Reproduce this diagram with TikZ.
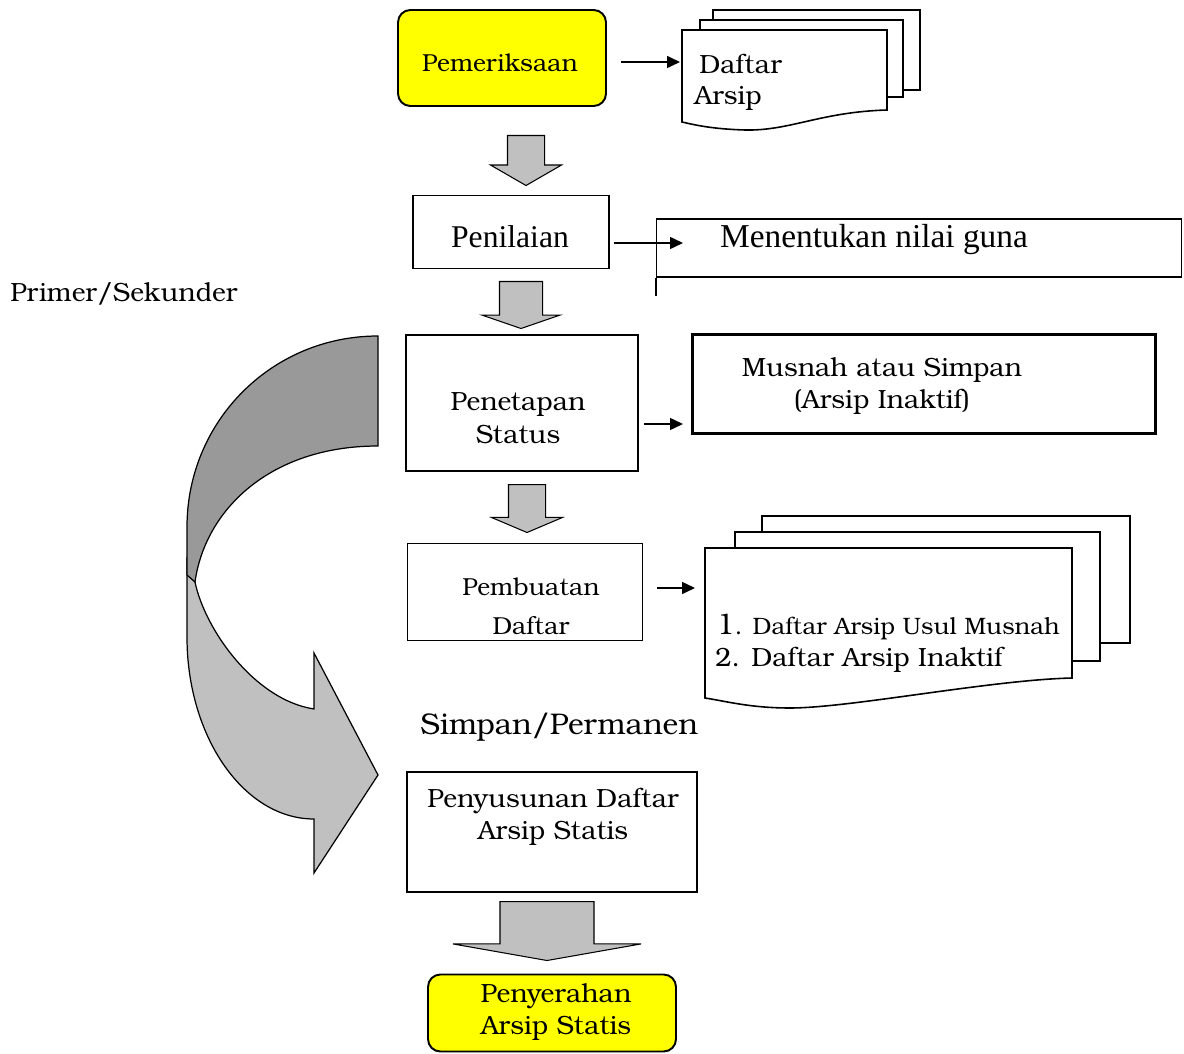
\documentclass[tikz,border=0pt]{standalone}
\usepackage{fontspec}
\usepackage{tikz}
\usetikzlibrary{positioning, calc, shapes.arrows, arrows.meta}
\newfontfamily\bk{TeX Gyre Bonum}
\newfontfamily\tms{Liberation Serif}
\definecolor{arrowgray}{HTML}{C0C0C0}
\definecolor{bandgray}{HTML}{999999}
\definecolor{startyellow}{HTML}{FFFF00}
\tikzset{
link/.style = {line width=0.9pt, -{Triangle[length=2.6mm, width=2.4mm]}},
blockarrow/.style = {single arrow, draw, line width=0.6pt, fill=arrowgray, rotate=-90, inner xsep=0pt, single arrow head indent=0pt, anchor=tail},
}
\begin{document}
\begin{tikzpicture}[x=0.02cm, y=-0.02cm,
			startbox/.style = {rectangle, rounded corners=7pt, draw, line width=1.1pt, fill=startyellow},
			stepbox/.style = {rectangle, draw, line width=0.8pt},
			statusbox/.style = {rectangle, draw, line width=1.3pt},
			sheet/.style = {draw, line width=0.9pt, fill=white},
			txt/.style = {align=center, inner sep=0pt, font=\bk\fontsize{15}{18}\selectfont},
		]
		\useasboundingbox (0,0) rectangle (1184,1054);

		% curved arrow on the left
		\draw[line width=0.7pt, fill=arrowgray] (187,560) -- (187,637) .. controls (187,737) and (244,819) .. (314,819) -- (314,873) -- (378,775) -- (314,653) -- (314,709) .. controls (255,700) and (205,630) .. (195,582) -- cycle;
		\draw[line width=0.7pt, fill=bandgray] (378,336) .. controls (272,336) and (187,421) .. (187,527) -- (187,575) -- (195,582) .. controls (205,510) and (270,446) .. (378,446) -- cycle;

		% boxes
		\node[startbox, minimum width=4.16cm, minimum height=1.92cm] (pem) at (502,58) {};
		\node[inner sep=0pt, font=\bk\fontsize{14}{17}\selectfont] (pemtxt) at (500,63) {Pemeriksaan};
		\node[stepbox, minimum width=3.92cm, minimum height=1.46cm] (pen) at (511,232) {};
		\node[inner sep=0pt, font=\tms\fontsize{18}{21}\selectfont] (pentxt) at (510,237) {Penilaian};
		\node[statusbox, minimum width=4.64cm, minimum height=2.72cm] (stat) at (522,403) {};
		\node[txt, font=\bk\fontsize{15}{19}\selectfont] (stattxt) at (518,418) {Penetapan\\Status};
		\node[stepbox, minimum width=4.7cm, minimum height=1.94cm] (buat) at (525,592) {};
		\node[txt, font=\bk\fontsize{14}{22}\selectfont] (buattxt) at (531,606) {Pembuatan\\Daftar};
		\node[stepbox, minimum width=5.8cm, minimum height=2.4cm] (susun) at (552,832) {};
		\node[txt] (susuntxt) at (553,817) {Penyusunan Daftar\\Arsip Statis};
		\node[startbox, minimum width=4.96cm, minimum height=1.54cm] (serah) at (552,1013) {};
		\node[txt] (serahtxt) at (556,1012) {Penyerahan\\Arsip Statis};

		% boxes on the right
		\node[stepbox, minimum width=10.5cm, minimum height=1.16cm] (nilai) at (919,248) {};
		\draw[line width=0.8pt] (nilai.south west) -- ++(0,18);
		\node[inner sep=0pt, font=\tms\fontsize{19}{22}\selectfont] (nilaitxt) at (874,240) {Menentukan nilai guna};
		\node[statusbox, minimum width=9.26cm, minimum height=1.98cm] (musnah) at (924,384) {};
		\node[txt] (musnahtxt) at (882,386) {Musnah atau Simpan\\(Arsip Inaktif)};

		% stacked sheets
		\draw[sheet] (713,10) rectangle (920,90);
		\draw[sheet] (700,20) rectangle (903,97);
		\draw[sheet] (682,30) -- (887,30) -- (887,110) .. controls (820,112) and (790,131) .. (745,130) .. controls (712,129) and (695,125) .. (682,122) -- cycle;
		\node[inner sep=0pt, anchor=base west, font=\bk\fontsize{15}{18}\selectfont] (daftar) at (699,74) {Daftar};
		\node[inner sep=0pt, anchor=base west, font=\bk\fontsize{15}{18}\selectfont] (arsip) at (694,105) {Arsip};

		\draw[sheet] (762,516) rectangle (1130,643);
		\draw[sheet] (735,532) rectangle (1100,661);
		\draw[sheet] (705,548) -- (1072,548) -- (1072,678) .. controls (990,680) and (850,708) .. (790,708) .. controls (750,708) and (725,701) .. (705,698) -- cycle;
		\node[inner sep=0pt, anchor=base west, font=\bk\fontsize{13.5}{17}\selectfont] (usul) at (716,634) {{\fontsize{17}{17}\selectfont 1}. Daftar Arsip Usul Musnah};
		\node[inner sep=0pt, anchor=base west, font=\bk\fontsize{15}{18}\selectfont] (inaktif) at (715,666) {2. Daftar Arsip Inaktif};

		% free labels
		\node[inner sep=0pt, anchor=base west, font=\bk\fontsize{15}{18}\selectfont] (primer) at (10,302) {Primer/Sekunder};
		\node[inner sep=0pt, anchor=base west, font=\bk\fontsize{17}{20}\selectfont] (simpan) at (420,734) {Simpan/Permanen};

		% connectors
		\coordinate (c1) at (680,62);
		\coordinate (c2) at (683,243);
		\coordinate (c3) at (683,424);
		\coordinate (c4) at (695,588);
		\draw[link] ([shift={(14,4)}]pem.east) -- (c1);
		\draw[link] ([shift={(4,11)}]pen.east) -- (c2);
		\draw[link] ([shift={(5,21)}]stat.east) -- (c3);
		\draw[link] ([shift={(14,-4)}]buat.east) -- (c4);

		% block arrows
		\node[blockarrow, inner ysep=0.36cm, single arrow head extend=0.34cm, minimum height=1cm, single arrow tip angle=120] (a1) at (526,135) {};
		\node[blockarrow, inner ysep=0.42cm, single arrow head extend=0.35cm, minimum height=0.94cm, single arrow tip angle=142] (a2) at (521,281) {};
		\node[blockarrow, inner ysep=0.36cm, single arrow head extend=0.34cm, minimum height=0.96cm, single arrow tip angle=134] (a3) at (527,484) {};
		\node[blockarrow, inner ysep=0.93cm, single arrow head extend=0.94cm, minimum height=1.18cm, single arrow tip angle=160] (a4) at (547,901) {};
	\end{tikzpicture}
\end{document}
